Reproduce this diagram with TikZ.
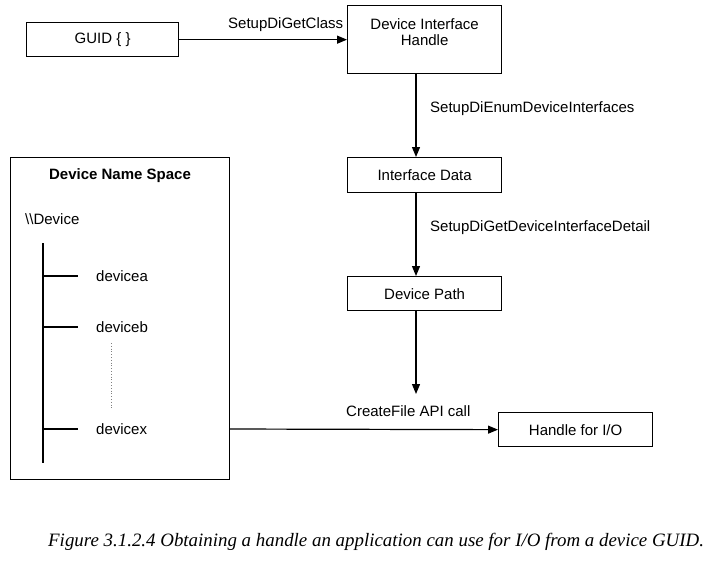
\documentclass[tikz,border=0pt]{standalone}
\usepackage{fontspec}
\setmainfont{Liberation Sans}
\newfontfamily\capfont{Liberation Serif}
\usetikzlibrary{arrows.meta}
\begin{document}
\begin{tikzpicture}[x=1pt,y=-1pt,
  every node/.style={font=\fontsize{15}{17}\selectfont},
  box/.style={draw,line width=1.3pt,minimum height=34pt,inner sep=0pt,anchor=north west},
  conn/.style={line width=1.2pt},
  arr/.style={conn,-{Triangle[length=10pt,width=8pt]}},
  lbl/.style={inner sep=0pt,anchor=base west}]
\useasboundingbox (0,0) rectangle (708,560);
\fill[white] (0,0) rectangle (708,560);
% boxes
\node[box,minimum width=152pt] (guid) at (26,22) {GUID \{ \}};
\node[box,minimum width=154pt,minimum height=68pt,align=center,text depth=16pt] (dih) at (347,5) {Device Interface\\[-1pt]Handle};
\node[box,minimum width=154pt,minimum height=35pt] (idata) at (347,157) {Interface Data};
\node[box,minimum width=154pt] (dpath) at (347,276) {Device Path};
\node[box,minimum width=154pt] (hio) at (498,412) {Handle for I/O};
\node[draw,line width=1.3pt,minimum width=219pt,minimum height=322pt,inner sep=0pt,anchor=north west] (dns) at (10,157) {};
% connectors
\draw[arr] (guid.east) -- (dih.west |- guid.east);
\node[lbl] (l1) at (228,28) {SetupDiGetClass};
\draw[arr] (dih.south -| 416,0) -- (idata.north -| 416,0);
\node[lbl] (l2) at (430,112) {SetupDiEnumDeviceInterfaces};
\draw[arr] (idata.south -| 416,0) -- (dpath.north -| 416,0);
\coordinate (dpend) at (416,394);
\node[lbl] (l3) at (430,231) {SetupDiGetDeviceInterfaceDetail};
\draw[arr] (dpath.south -| 416,0) -- (dpend);
\node[lbl] (l4) at (346,416) {CreateFile API call};
\coordinate (dxstart) at (229,429);
\draw[arr] (dxstart) -- (hio.west);
% name space content
\node[inner sep=0pt,font=\bfseries\fontsize{15}{17}\selectfont] (title) at (120,176) {Device Name Space};
\node[lbl] (root) at (25,224) {\textbackslash\textbackslash Device};
\coordinate (t1) at (43,243);
\coordinate (t2) at (43,463);
\draw[conn] (t1) -- (t2);
\coordinate (ba) at (43,276);
\coordinate (bb) at (43,327);
\coordinate (bx) at (43,429);
\draw[conn] (ba) -- ++(35,0);
\draw[conn] (bb) -- ++(35,0);
\draw[conn] (bx) -- ++(35,0);
\node[lbl] (da) at (96,281) {devicea};
\node[lbl] (db) at (96,332) {deviceb};
\node[lbl] (dx) at (96,434) {devicex};
\coordinate (d1) at (111,343);
\coordinate (d2) at (111,408);
\draw[gray,line width=0.8pt,dotted] (d1) -- (d2);
% caption
\node[lbl,font=\capfont\itshape\fontsize{18.9}{21}\selectfont] (cap) at (48,546) {Figure 3.1.2.4 Obtaining a handle an application can use for I/O from a device GUID.};
\end{tikzpicture}
\end{document}
